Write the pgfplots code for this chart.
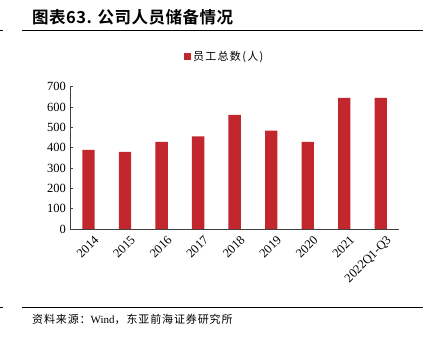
\documentclass[border=0pt]{standalone}
\usepackage{pgfplots}
\pgfplotsset{compat=1.18}
\usepackage{fontspec}
\setmainfont{Liberation Serif}
\newfontfamily\cjk{Noto Sans CJK SC}
\newfontfamily\cjkls[LetterSpace=12]{Noto Sans CJK SC}
\newfontfamily\cjkfoot[LetterSpace=8]{Noto Sans CJK SC}
\newfontfamily\cjkb[LetterSpace=3]{Noto Sans CJK SC Bold}
\definecolor{barred}{RGB}{193,39,45}
\begin{document}
\begin{tikzpicture}
\useasboundingbox (0,0) rectangle (432bp,338bp);
\node[anchor=base west, inner sep=0, font=\cjkb\fontsize{16.5bp}{18bp}\selectfont] at (32bp,314bp) {图表63. 公司人员储备情况};
\draw[line width=0.9bp] (22bp,308bp) -- (423bp,308bp);
\draw[line width=0.9bp] (0bp,308bp) -- (3bp,308bp);
\draw[line width=0.9bp] (22bp,31bp) -- (423bp,31bp);
\draw[line width=0.9bp] (0bp,31bp) -- (3bp,31bp);
\node[anchor=base west, inner sep=0, font=\cjkfoot\fontsize{11bp}{13bp}\selectfont] at (32bp,15bp) {资料来源：\rmfamily Wind\cjkfoot，东亚前海证券研究所};
\begin{axis}[
  scale only axis,
  width=328.7bp, height=142.3bp,
  at={(70.3bp,109bp)}, anchor=south west,
  ymin=0, ymax=700, ytick={0,100,...,700},
  xmin=-0.5, xmax=8.5,
  xtick={0,...,8},
  xticklabels={2014,2015,2016,2017,2018,2019,2020,2021,2022Q1-Q3},
  x tick label style={rotate=45, anchor=north east, inner sep=1.5bp, xshift=3bp, yshift=-4bp, font=\fontsize{12.5bp}{14bp}\selectfont},
  y tick label style={font=\fontsize{12.5bp}{14bp}\selectfont, xshift=-1bp},
  /pgf/number format/assume math mode=true,
  axis x line*=bottom, axis y line*=left,
  axis line style={black!75, line width=0.8bp},
  x axis line style={-}, y axis line style={-},
  major tick length=3bp,
  xtick style={draw=none},
  ytick style={black!75, line width=0.6bp},
  tick align=inside,
  ybar, bar width=12.3bp,
  legend style={at={(0.47,1.21)}, anchor=center, draw=none, fill=none, font=\cjkls\fontsize{11bp}{13bp}\selectfont, inner sep=0pt},
  legend image code/.code={\fill[barred] (0bp,-3.4bp) rectangle (6.8bp,3.4bp);},
]
\addplot[fill=barred, draw=none] coordinates {(0,389) (1,380) (2,428) (3,456) (4,561) (5,484) (6,428) (7,645) (8,645)};
\addlegendentry{员工总数(人)}
\end{axis}
\end{tikzpicture}
\end{document}
